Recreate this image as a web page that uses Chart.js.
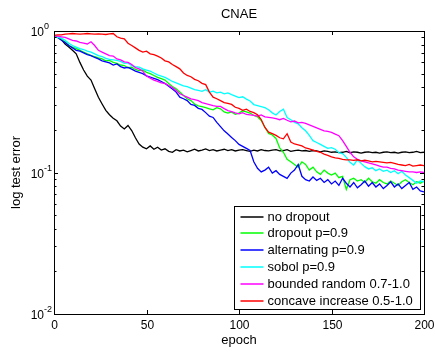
<!DOCTYPE html>
<html>
<head>
<meta charset="utf-8">
<script src="https://cdn.jsdelivr.net/npm/chart.js@4.4.1/dist/chart.umd.min.js"></script>
<style>
  html, body { margin: 0; padding: 0; background: #fff; }
  #wrap { width: 435px; height: 354px; }
</style>
</head>
<body>
<div id="wrap"><canvas id="cnae" width="435" height="354"></canvas></div>
<script>
// epochs sampled every 2
const epochs = [0, 2, 4, 6, 8, 10, 12, 14, 16, 18, 20, 22, 24, 26, 28, 30, 32, 34, 36, 38,
  40, 42, 44, 46, 48, 50, 52, 54, 56, 58, 60, 62, 64, 66, 68, 70, 72, 74, 76, 78,
  80, 82, 84, 86, 88, 90, 92, 94, 96, 98, 100, 102, 104, 106, 108, 110, 112, 114, 116, 118,
  120, 122, 124, 126, 128, 130, 132, 134, 136, 138, 140, 142, 144, 146, 148, 150, 152, 154, 156, 158,
  160, 162, 164, 166, 168, 170, 172, 174, 176, 178, 180, 182, 184, 186, 188, 190, 192, 194, 196, 198, 200];

const labels = ['no dropout', 'dropout p=0.9', 'alternating p=0.9', 'sobol p=0.9',
  'bounded random 0.7-1.0', 'concave increase 0.5-1.0'];
const colors = ['#000000', '#00ff00', '#0000ff', '#00ffff', '#ff00ff', '#ff0000'];

const noDropout = [0.93, 0.9, 0.87, 0.81, 0.77, 0.73, 0.69, 0.6, 0.53, 0.48, 0.45, 0.39, 0.34, 0.305, 0.275, 0.256, 0.242, 0.232, 0.213, 0.203,
  0.215, 0.198, 0.176, 0.159, 0.151, 0.147, 0.154, 0.146, 0.151, 0.144, 0.147, 0.141, 0.139, 0.145, 0.142, 0.144, 0.14, 0.143, 0.146, 0.142,
  0.144, 0.147, 0.143, 0.145, 0.142, 0.144, 0.146, 0.143, 0.145, 0.142, 0.144, 0.145, 0.143, 0.141, 0.144, 0.142, 0.145, 0.143, 0.142, 0.144,
  0.145, 0.142, 0.143, 0.145, 0.141, 0.143, 0.144, 0.142, 0.143, 0.141, 0.143, 0.142, 0.14, 0.142, 0.141, 0.139, 0.14, 0.138, 0.139, 0.141,
  0.138, 0.14, 0.139, 0.137, 0.139, 0.14, 0.138, 0.139, 0.137, 0.139, 0.14, 0.138, 0.139, 0.137, 0.139, 0.14, 0.138, 0.139, 0.141, 0.138, 0.139];

const dropout = [0.92, 0.9, 0.87, 0.84, 0.79, 0.77, 0.75, 0.73, 0.71, 0.69, 0.67, 0.66, 0.645, 0.635, 0.615, 0.62, 0.6, 0.59, 0.575, 0.57,
  0.55, 0.555, 0.535, 0.525, 0.53, 0.51, 0.5, 0.485, 0.47, 0.46, 0.45, 0.425, 0.405, 0.39, 0.37, 0.35, 0.332, 0.322, 0.305, 0.296,
  0.292, 0.287, 0.282, 0.277, 0.287, 0.282, 0.268, 0.263, 0.268, 0.258, 0.263, 0.273, 0.268, 0.263, 0.253, 0.248, 0.233, 0.209, 0.189, 0.184,
  0.174, 0.149, 0.139, 0.124, 0.119, 0.114, 0.109, 0.119, 0.114, 0.104, 0.109, 0.101, 0.097, 0.104, 0.099, 0.096, 0.099, 0.092, 0.094, 0.076,
  0.089, 0.091, 0.087, 0.089, 0.085, 0.091, 0.086, 0.084, 0.089, 0.085, 0.083, 0.087, 0.084, 0.081, 0.086, 0.089, 0.085, 0.082, 0.086, 0.084, 0.087];

const alternating = [0.92, 0.9, 0.86, 0.83, 0.79, 0.76, 0.73, 0.72, 0.7, 0.68, 0.67, 0.65, 0.635, 0.615, 0.605, 0.595, 0.575, 0.585, 0.56, 0.548,
  0.553, 0.538, 0.52, 0.51, 0.5, 0.482, 0.473, 0.463, 0.453, 0.44, 0.425, 0.407, 0.389, 0.37, 0.341, 0.332, 0.322, 0.303, 0.298, 0.284,
  0.279, 0.265, 0.25, 0.245, 0.226, 0.211, 0.197, 0.187, 0.177, 0.168, 0.158, 0.153, 0.148, 0.143, 0.119, 0.107, 0.101, 0.104, 0.109, 0.099,
  0.103, 0.097, 0.094, 0.091, 0.099, 0.104, 0.114, 0.094, 0.089, 0.087, 0.093, 0.088, 0.091, 0.085, 0.089, 0.083, 0.087, 0.081, 0.091, 0.084,
  0.079, 0.085, 0.078, 0.082, 0.087, 0.08, 0.085, 0.079, 0.083, 0.077, 0.081, 0.086, 0.079, 0.083, 0.077, 0.081, 0.085, 0.076, 0.079, 0.074, 0.073];

const sobol = [0.92, 0.9, 0.89, 0.86, 0.82, 0.79, 0.77, 0.75, 0.74, 0.72, 0.71, 0.69, 0.67, 0.66, 0.64, 0.63, 0.625, 0.62, 0.61, 0.59,
  0.595, 0.57, 0.56, 0.555, 0.54, 0.53, 0.52, 0.505, 0.49, 0.48, 0.47, 0.455, 0.44, 0.43, 0.42, 0.41, 0.405, 0.395, 0.385, 0.38,
  0.375, 0.385, 0.37, 0.375, 0.365, 0.37, 0.36, 0.365, 0.355, 0.347, 0.338, 0.343, 0.33, 0.32, 0.302, 0.297, 0.292, 0.287, 0.278, 0.264,
  0.255, 0.27, 0.28, 0.245, 0.236, 0.226, 0.221, 0.207, 0.197, 0.183, 0.168, 0.163, 0.158, 0.153, 0.148, 0.15, 0.146, 0.138, 0.136, 0.128,
  0.118, 0.113, 0.123, 0.116, 0.11, 0.106, 0.108, 0.103, 0.106, 0.102, 0.104, 0.1, 0.103, 0.098, 0.102, 0.096, 0.092, 0.088, 0.084, 0.087, 0.086];

const boundedRandom = [0.92, 0.92, 0.91, 0.9, 0.88, 0.86, 0.85, 0.83, 0.82, 0.81, 0.84, 0.79, 0.73, 0.71, 0.69, 0.67, 0.665, 0.635, 0.625, 0.605,
  0.6, 0.58, 0.55, 0.54, 0.52, 0.48, 0.465, 0.45, 0.44, 0.43, 0.426, 0.412, 0.398, 0.379, 0.36, 0.35, 0.341, 0.331, 0.327, 0.322,
  0.312, 0.307, 0.302, 0.297, 0.293, 0.293, 0.283, 0.274, 0.269, 0.264, 0.26, 0.265, 0.257, 0.255, 0.253, 0.25, 0.255, 0.247, 0.245, 0.243,
  0.24, 0.236, 0.241, 0.234, 0.228, 0.231, 0.224, 0.226, 0.222, 0.217, 0.212, 0.207, 0.202, 0.197, 0.195, 0.192, 0.187, 0.182, 0.168, 0.153,
  0.139, 0.129, 0.124, 0.121, 0.119, 0.117, 0.115, 0.113, 0.111, 0.109, 0.109, 0.107, 0.106, 0.104, 0.103, 0.102, 0.101, 0.101, 0.1, 0.101, 0.1];

const concaveIncrease = [0.93, 0.94, 0.94, 0.95, 0.955, 0.96, 0.955, 0.95, 0.955, 0.96, 0.955, 0.95, 0.955, 0.95, 0.945, 0.955, 0.96, 0.91, 0.89, 0.88,
  0.82, 0.79, 0.76, 0.73, 0.71, 0.72, 0.69, 0.68, 0.665, 0.645, 0.615, 0.605, 0.58, 0.56, 0.54, 0.505, 0.485, 0.475, 0.455, 0.445,
  0.427, 0.418, 0.37, 0.341, 0.332, 0.322, 0.312, 0.308, 0.303, 0.289, 0.284, 0.275, 0.28, 0.27, 0.265, 0.256, 0.237, 0.208, 0.193, 0.188,
  0.183, 0.176, 0.173, 0.188, 0.164, 0.159, 0.157, 0.154, 0.149, 0.147, 0.144, 0.141, 0.139, 0.135, 0.132, 0.129, 0.127, 0.126, 0.124, 0.123,
  0.123, 0.122, 0.123, 0.121, 0.122, 0.121, 0.119, 0.12, 0.119, 0.118, 0.117, 0.118, 0.116, 0.114, 0.113, 0.112, 0.114, 0.111, 0.112, 0.113, 0.112];

const seriesValues = [noDropout, dropout, alternating, sobol, boundedRandom, concaveIncrease];

const xTicks = [0, 50, 100, 150, 200];
const yTicks = [0.01, 0.1, 1];
const yTickExponents = ['-2', '-1', '0'];

const FONT = "'Liberation Sans', Arial, sans-serif";

// MATLAB style box, ticks, labels and legend
const matlabAxes = {
    id: 'matlabAxes',
    afterDraw(chart) {
        const ctx = chart.ctx;
        const area = chart.chartArea;
        const xs = chart.scales.x;
        const ys = chart.scales.y;
        ctx.save();

        // frame
        ctx.strokeStyle = '#000';
        ctx.lineWidth = 1;
        ctx.strokeRect(Math.round(area.left) + 0.5, Math.round(area.top) + 0.5,
            Math.round(area.right - area.left), Math.round(area.bottom - area.top));

        // x ticks, top and bottom
        ctx.fillStyle = '#000';
        ctx.font = '12px ' + FONT;
        ctx.textAlign = 'center';
        ctx.textBaseline = 'alphabetic';
        xTicks.forEach(t => {
            const px = Math.round(xs.getPixelForValue(t)) + 0.5;
            ctx.beginPath();
            ctx.moveTo(px, area.bottom);
            ctx.lineTo(px, area.bottom - 4);
            ctx.moveTo(px, area.top);
            ctx.lineTo(px, area.top + 4);
            ctx.stroke();
            ctx.fillText(String(t), px, area.bottom + 15);
        });

        // y major ticks + labels
        yTicks.forEach((t, i) => {
            const py = Math.round(ys.getPixelForValue(t)) + 0.5;
            ctx.beginPath();
            ctx.moveTo(area.left, py);
            ctx.lineTo(area.left + 4, py);
            ctx.moveTo(area.right, py);
            ctx.lineTo(area.right - 4, py);
            ctx.stroke();
            ctx.font = '12px ' + FONT;
            ctx.textAlign = 'right';
            ctx.fillText('10', area.left - 10, py + 4);
            ctx.font = '9px ' + FONT;
            ctx.textAlign = 'left';
            ctx.fillText(yTickExponents[i], area.left - 10, py - 3);
        });

        // y minor ticks
        for (let d = 0; d < yTicks.length - 1; d++) {
            for (let m = 2; m <= 9; m++) {
                const py = Math.round(ys.getPixelForValue(yTicks[d] * m)) + 0.5;
                ctx.beginPath();
                ctx.moveTo(area.left, py);
                ctx.lineTo(area.left + 2.5, py);
                ctx.moveTo(area.right, py);
                ctx.lineTo(area.right - 2.5, py);
                ctx.stroke();
            }
        }

        // title and axis titles
        const cx = (area.left + area.right) / 2;
        const cy = (area.top + area.bottom) / 2;
        ctx.font = '13px ' + FONT;
        ctx.textAlign = 'center';
        ctx.fillText('CNAE', cx, 18);
        ctx.fillText('epoch', cx, 344);
        ctx.save();
        ctx.translate(20, cy);
        ctx.rotate(-Math.PI / 2);
        ctx.fillText('log test error', 0, 0);
        ctx.restore();

        // legend box
        const lx = 234.5, ly = 206.5, lw = 186, lh = 103;
        ctx.fillStyle = '#fff';
        ctx.fillRect(lx, ly, lw, lh);
        ctx.strokeStyle = '#000';
        ctx.lineWidth = 1;
        ctx.strokeRect(lx, ly, lw, lh);
        ctx.textAlign = 'left';
        ctx.textBaseline = 'middle';
        ctx.font = '13px ' + FONT;
        labels.forEach((name, i) => {
            const ry = Math.round(ly + 10 + i * 16.9);
            ctx.strokeStyle = colors[i];
            ctx.lineWidth = 1.5;
            ctx.beginPath();
            ctx.moveTo(lx + 6, ry);
            ctx.lineTo(lx + 29, ry);
            ctx.stroke();
            ctx.fillStyle = '#000';
            ctx.fillText(name, lx + 33, ry);
        });
        ctx.restore();
    }
};

const datasets = seriesValues.map((vals, i) => ({
    label: labels[i],
    data: epochs.map((e, j) => ({ x: e, y: vals[j] })),
    borderColor: colors[i],
    backgroundColor: colors[i],
    borderWidth: 1.3,
    pointRadius: 0,
    tension: 0,
    fill: false,
    order: seriesValues.length - 1 - i // later series on top, like matlab
}));

new Chart(document.getElementById('cnae'), {
    type: 'line',
    data: { datasets: datasets },
    options: {
        responsive: false,
        animation: false,
        devicePixelRatio: 1,
        layout: { padding: { left: 0, right: 11, top: 31, bottom: 0 } },
        plugins: {
            legend: { display: false },
            title: { display: false },
            tooltip: { enabled: false }
        },
        scales: {
            x: {
                type: 'linear',
                min: 0,
                max: 200,
                grid: { display: false, drawTicks: false },
                border: { display: false },
                ticks: { display: false },
                afterFit: s => { s.height = 40; }
            },
            y: {
                type: 'logarithmic',
                min: 0.01,
                max: 1,
                grid: { display: false, drawTicks: false },
                border: { display: false },
                ticks: { display: false },
                afterFit: s => { s.width = 54; }
            }
        }
    },
    plugins: [matlabAxes]
});
</script>
</body>
</html>
